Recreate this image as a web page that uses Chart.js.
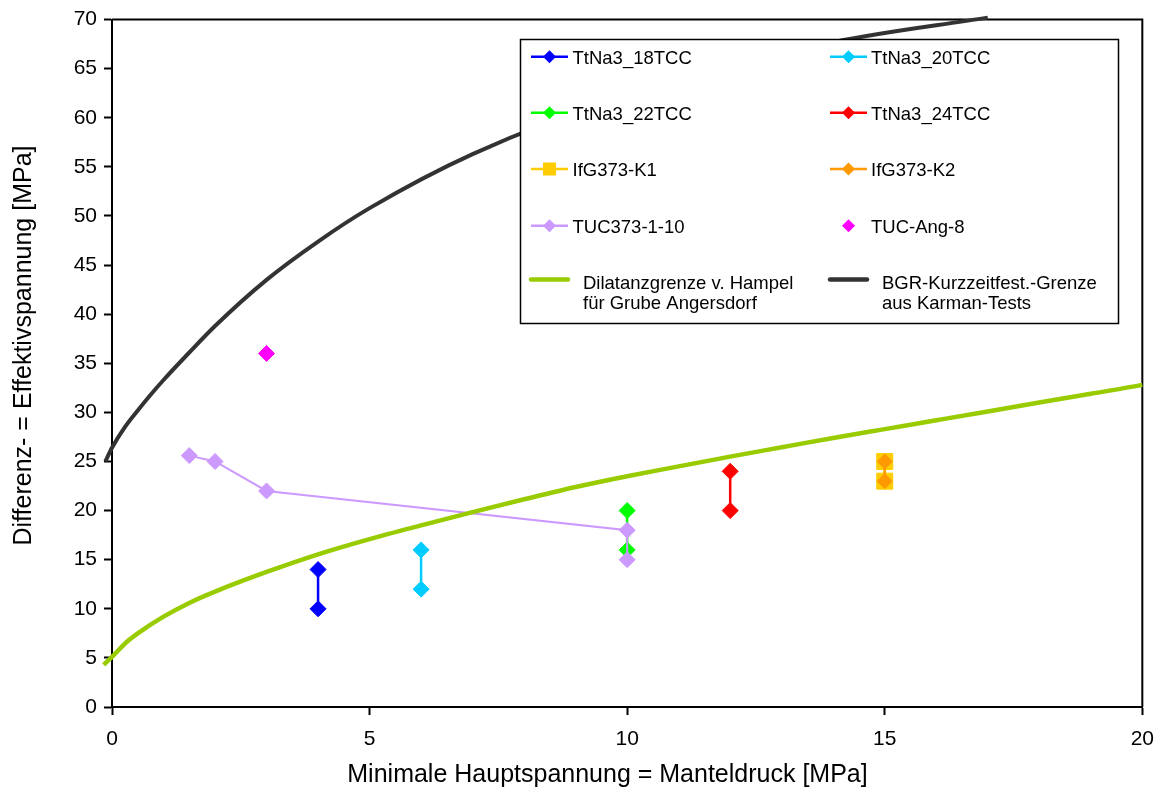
<!DOCTYPE html>
<html>
<head>
<meta charset="utf-8">
<title>Differenzspannung über Manteldruck</title>
<script src="https://cdn.jsdelivr.net/npm/chart.js@4/dist/chart.umd.min.js"></script>
<style>
  html, body { margin: 0; padding: 0; background: #fff; }
  #wrap { width: 1166px; height: 794px; }
</style>
</head>
<body>
<div id="wrap"><canvas id="c" width="1166" height="794"></canvas></div>
<script>
// ---- Messwerte (Manteldruck x, Differenzspannung y) in MPa ----
const tt18X = [4, 4],   tt18Y = [14, 10];
const tt20X = [6, 6],   tt20Y = [16, 12];
const tt22X = [10, 10], tt22Y = [20, 16];
const tt24X = [12, 12], tt24Y = [24, 20];
const k1X = [15, 15],   k1Y = [25, 23];
const k2X = [15, 15],   k2Y = [25, 23];
const tuc110X = [1.5, 2, 3, 10, 10];
const tuc110Y = [25.6, 25, 22, 18, 15];
const angX = [3], angY = [36];

// Dilatanzgrenze nach Hampel (Grube Angersdorf)
const hampelX = [-0.16, 0, 0.3, 0.5, 1, 1.5, 2, 3, 4, 5, 6, 7, 8, 9, 10, 11, 12, 13, 14, 15, 16, 17, 18, 19, 20, 20.18];
const hampelY = [4.3, 5.1, 6.7, 7.5, 9.2, 10.6, 11.75, 13.75, 15.55, 17.1, 18.5, 19.85, 21.15, 22.4, 23.5, 24.5, 25.5, 26.45, 27.4, 28.3, 29.2, 30.1, 31.0, 31.9, 32.8, 33.0];

// BGR-Kurzzeitfestigkeitsgrenze aus Karman-Versuchen
const bgrX = [-0.13, 0, 0.25, 0.5, 0.75, 1, 1.5, 2, 3, 4, 5, 7, 10, 14, 17];
const bgrY = [25.0, 26.4, 28.5, 30.2, 31.8, 33.3, 36.1, 38.8, 43.5, 47.4, 50.8, 56.3, 62.3, 67.7, 70.2];

// Achsen
const xTicks = [0, 5, 10, 15, 20];
const yTicks = [0, 5, 10, 15, 20, 25, 30, 35, 40, 45, 50, 55, 60, 65, 70];
const xTitle = 'Minimale Hauptspannung = Manteldruck [MPa]';
const yTitle = 'Differenz- = Effektivspannung [MPa]';

const FONT = "'Liberation Sans', Arial, Helvetica, sans-serif";

function pts(xs, ys) { return xs.map((x, i) => ({ x: x, y: ys[i] })); }

function series(label, xs, ys, color, opts) {
  return Object.assign({
    label: label,
    data: pts(xs, ys),
    showLine: true,
    borderColor: color,
    backgroundColor: color,
    borderWidth: 2.5,
    pointStyle: 'rectRot',
    pointRadius: 8,
    pointBorderWidth: 1,
    pointBorderColor: color,
    pointBackgroundColor: color,
    pointHoverRadius: 8
  }, opts || {});
}

// later series lie on top (lower order = drawn last)
const datasets = [
  series('TtNa3_18TCC', tt18X, tt18Y, '#0000FF', { order: 10 }),
  series('TtNa3_20TCC', tt20X, tt20Y, '#00CCFF', { order: 9 }),
  series('TtNa3_22TCC', tt22X, tt22Y, '#00FF00', { order: 8 }),
  series('TtNa3_24TCC', tt24X, tt24Y, '#FF0000', { order: 7 }),
  series('IfG373-K1', k1X, k1Y, '#FFCC00', { order: 6, pointStyle: 'rect', pointRadius: 11.3, pointHoverRadius: 11.3 }),
  series('IfG373-K2', k2X, k2Y, '#FF9900', { order: 5, pointRadius: 7.5, pointHoverRadius: 7.5 }),
  series('TUC373-1-10', tuc110X, tuc110Y, '#CC99FF', { order: 4, borderWidth: 2 }),
  series('TUC-Ang-8', angX, angY, '#FF00FF', { order: 3, showLine: false }),
  {
    label: 'Dilatanzgrenze v. Hampel für Grube Angersdorf',
    data: pts(hampelX, hampelY), showLine: true, order: 2,
    borderColor: '#99CC00', borderWidth: 4.5, pointRadius: 0, pointHoverRadius: 0,
    cubicInterpolationMode: 'monotone', clip: false
  },
  {
    label: 'BGR-Kurzzeitfest.-Grenze aus Karman-Tests',
    data: pts(bgrX, bgrY), showLine: true, order: 1,
    borderColor: '#333333', borderWidth: 4, pointRadius: 0, pointHoverRadius: 0,
    cubicInterpolationMode: 'monotone', clip: false
  }
];

// Legendeneinträge: [Spalte, Zeile, Text, Farbe, Marker]
const legendItems = [
  [0, 0, ['TtNa3_18TCC'], '#0000FF', 'diamond'],
  [1, 0, ['TtNa3_20TCC'], '#00CCFF', 'diamond'],
  [0, 1, ['TtNa3_22TCC'], '#00FF00', 'diamond'],
  [1, 1, ['TtNa3_24TCC'], '#FF0000', 'diamond'],
  [0, 2, ['IfG373-K1'], '#FFCC00', 'square'],
  [1, 2, ['IfG373-K2'], '#FF9900', 'diamond'],
  [0, 3, ['TUC373-1-10'], '#CC99FF', 'diamond'],
  [1, 3, ['TUC-Ang-8'], '#FF00FF', 'dot'],
  [0, 4, ['Dilatanzgrenze v. Hampel', 'für Grube Angersdorf'], '#99CC00', 'thick'],
  [1, 4, ['BGR-Kurzzeitfest.-Grenze', 'aus Karman-Tests'], '#333333', 'thick']
];

const legendBox = {
  id: 'legendBox',
  afterDatasetsDraw(chart) {
    const ctx = chart.ctx;
    const bx = 520, by = 39, bw = 598, bh = 284;
    ctx.save();
    ctx.fillStyle = '#fff';
    ctx.fillRect(bx, by, bw, bh);
    ctx.strokeStyle = '#000';
    ctx.lineWidth = 1.5;
    ctx.strokeRect(bx + 0.5, by + 0.5, bw, bh);

    const colLine = [531, 830];
    const rowY = [56.7, 112.7, 169, 225.7, 279.5];
    ctx.font = '18.5px ' + FONT;
    ctx.textBaseline = 'alphabetic';
    ctx.textAlign = 'left';
    legendItems.forEach(([c, r, lines, color, kind]) => {
      const x0 = colLine[c], x1 = x0 + 37, cy = rowY[r], mx = (x0 + x1) / 2;
      ctx.strokeStyle = color;
      ctx.fillStyle = color;
      if (kind === 'thick') {
        ctx.lineWidth = 4.5;
        ctx.lineCap = 'round';
        ctx.beginPath(); ctx.moveTo(x0, cy); ctx.lineTo(x1, cy); ctx.stroke();
      } else if (kind !== 'dot') {
        ctx.lineWidth = 2.5;
        ctx.lineCap = 'butt';
        ctx.beginPath(); ctx.moveTo(x0, cy); ctx.lineTo(x1, cy); ctx.stroke();
      }
      if (kind === 'diamond' || kind === 'dot') {
        const s = 6.5;
        ctx.beginPath();
        ctx.moveTo(mx - s, cy); ctx.lineTo(mx, cy - s);
        ctx.lineTo(mx + s, cy); ctx.lineTo(mx, cy + s);
        ctx.closePath(); ctx.fill();
      } else if (kind === 'square') {
        ctx.fillRect(mx - 6.5, cy - 6.5, 13, 13);
      }
      ctx.fillStyle = '#000';
      if (kind === 'thick') {
        const tx = c === 0 ? 583 : 882;
        ctx.fillText(lines[0], tx, 288.5);
        ctx.fillText(lines[1], tx, 308.8);
      } else {
        ctx.fillText(lines[0], c === 0 ? 572.5 : 871, cy + 6.8);
      }
    });
    ctx.restore();
  }
};

// Rahmen oben und rechts um die Zeichenfläche
const plotFrame = {
  id: 'plotFrame',
  beforeDatasetsDraw(chart) {
    const { ctx, chartArea: a } = chart;
    ctx.save();
    ctx.strokeStyle = '#000';
    ctx.lineWidth = 2;
    ctx.beginPath();
    ctx.moveTo(a.left, a.top);
    ctx.lineTo(a.right, a.top);
    ctx.lineTo(a.right, a.bottom);
    ctx.stroke();
    ctx.restore();
  }
};

// Achsentitel
const axisTitles = {
  id: 'axisTitles',
  afterDraw(chart) {
    const ctx = chart.ctx;
    ctx.save();
    ctx.fillStyle = '#000';
    ctx.font = '25px ' + FONT;
    ctx.textAlign = 'center';
    ctx.textBaseline = 'middle';
    ctx.fillText(xTitle, 607.5, 775);
    ctx.translate(24.5, 345.5);
    ctx.rotate(-Math.PI / 2);
    ctx.fillText(yTitle, 0, 0);
    ctx.restore();
  }
};

new Chart(document.getElementById('c'), {
  type: 'scatter',
  data: { datasets: datasets },
  options: {
    responsive: false,
    animation: false,
    devicePixelRatio: 1,
    layout: { padding: { top: 16, right: 23, left: 0, bottom: 0 } },
    plugins: { legend: { display: false }, tooltip: { enabled: false } },
    elements: { line: { tension: 0 } },
    scales: {
      x: {
        type: 'linear', min: 0, max: 20,
        afterBuildTicks: (s) => { s.ticks = xTicks.map(v => ({ value: v })); },
        afterFit: (s) => { s.height = 87; },
        border: { display: true, color: '#000', width: 2 },
        grid: { display: true, drawOnChartArea: false, drawTicks: true, tickLength: 8, tickColor: '#000', tickWidth: 2 },
        ticks: { color: '#000', font: { family: FONT, size: 21 }, padding: 12, maxRotation: 0 },
        title: { display: false }
      },
      y: {
        type: 'linear', min: 0, max: 70,
        afterBuildTicks: (s) => { s.ticks = yTicks.map(v => ({ value: v })); },
        afterFit: (s) => { s.width = 112; },
        border: { display: true, color: '#000', width: 2 },
        grid: { display: true, drawOnChartArea: false, drawTicks: true, tickLength: 8, tickColor: '#000', tickWidth: 2 },
        ticks: { color: '#000', font: { family: FONT, size: 21 }, padding: 7 },
        title: { display: false }
      }
    }
  },
  plugins: [plotFrame, legendBox, axisTitles]
});
</script>
</body>
</html>
